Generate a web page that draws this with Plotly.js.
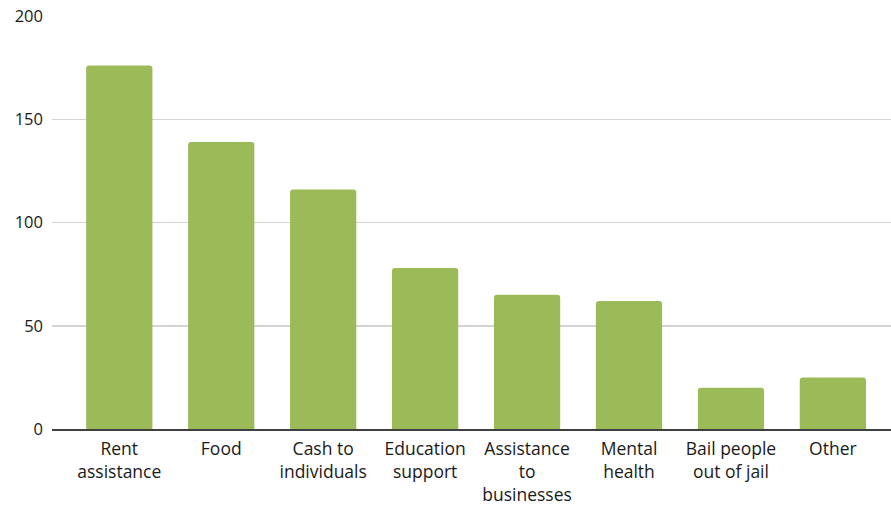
<!DOCTYPE html>
<html>
<head>
<meta charset="utf-8">
<script src="https://cdn.plot.ly/plotly-3.0.1.min.js"></script>
<style>html,body{margin:0;padding:0;background:#fff;}#chart{width:891px;height:507px;}</style>
</head>
<body>
<div id="chart"></div>
<script>
const categories = ["Rent<br>assistance", "Food", "Cash to<br>individuals", "Education<br>support", "Assistance<br>to<br>businesses", "Mental<br>health", "Bail people<br>out of jail", "Other"];
const values = [176, 139, 116, 78, 65, 62, 20, 25];
const yTicks = [0, 50, 100, 150, 200];

const trace = {
  type: "bar",
  x: categories.map((c, i) => i),
  y: values,
  marker: { color: "#9BBB59", cornerradius: 3 },
  hoverinfo: "none"
};

const layout = {
  width: 891, height: 507,
  margin: { l: 52, r: 0, t: 16, b: 78 },
  paper_bgcolor: "#fff", plot_bgcolor: "#fff",
  showlegend: false,
  bargap: 0.35,
  font: { family: "Open Sans, sans-serif", size: 16, color: "#1a1a1a" },
  xaxis: {
    range: [-0.66, 7.57],
    tickmode: "array",
    tickvals: categories.map((c, i) => i),
    ticktext: categories,
    showgrid: false,
    zeroline: false,
    showline: true,
    linecolor: "#404040",
    linewidth: 2,
    ticks: "",
    ticklabelstandoff: 3,
    tickfont: { size: 17.5, color: "#1a1a1a" }
  },
  yaxis: {
    range: [0, 200],
    tickmode: "array",
    tickvals: yTicks,
    showgrid: true,
    gridcolor: "#d4d4d4",
    gridwidth: 1.5,
    zeroline: false,
    ticks: "",
    ticklabelstandoff: 8,
    tickfont: { size: 16.5, color: "#1a1a1a" }
  }
};

Plotly.newPlot("chart", [trace], layout, { displayModeBar: false, staticPlot: true });
</script>
</body>
</html>
